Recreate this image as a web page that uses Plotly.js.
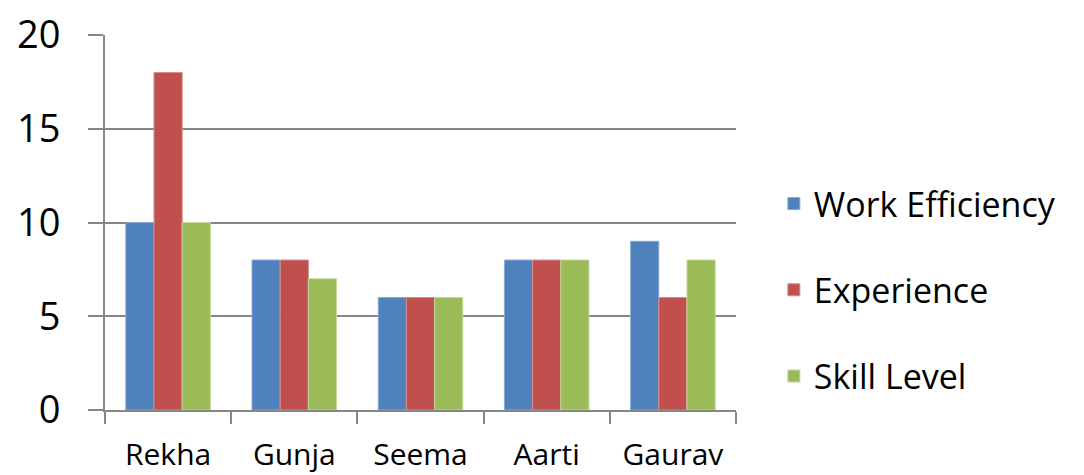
<!DOCTYPE html>
<html>
<head>
<meta charset="utf-8">
<script src="https://cdn.plot.ly/plotly-3.0.1.min.js"></script>
<style>html,body{margin:0;padding:0;background:#fff;}#chart{width:1084px;height:475px;}</style>
</head>
<body>
<div id="chart"></div>
<script>
const categories = ["Rekha", "Gunja", "Seema", "Aarti", "Gaurav"];
const workEfficiency = [10, 8, 6, 8, 9];
const experience = [18, 8, 6, 8, 6];
const skillLevel = [10, 7, 6, 8, 8];
const seriesNames = ["Work Efficiency", "Experience", "Skill Level"];
const colors = ["#4F81BD", "#C0504D", "#9BBB59"];
const edge = ["#8AA9D6", "#D98B89", "#C3D89A"];
const seriesValues = [workEfficiency, experience, skillLevel];

const traces = seriesValues.map((vals, i) => ({
  type: "bar",
  name: seriesNames[i],
  x: categories,
  y: vals,
  legendgroup: "g" + i,
  marker: {color: colors[i], line: {color: edge[i], width: 1}},
  hoverinfo: "x+y+name"
}));

const font = "'Open Sans', Lato, 'Liberation Sans', sans-serif";
const layout = {
  width: 1084, height: 475,
  margin: {l: 105, r: 348, t: 35, b: 65},
  paper_bgcolor: "#fff", plot_bgcolor: "#fff",
  barmode: "group",
  bargap: 0.33, bargroupgap: 0,
  font: {family: font, color: "#000"},
  xaxis: {
    type: "category",
    showline: true, linecolor: "#868686", linewidth: 2,
    ticks: "outside", tickson: "boundaries", ticklen: 12, tickcolor: "#868686", tickwidth: 2,
    tickfont: {size: 30, family: font},
    ticklabelstandoff: 17,
    showgrid: false, zeroline: false, fixedrange: true
  },
  yaxis: {
    range: [0, 20], dtick: 5, tick0: 0,
    showline: true, linecolor: "#868686", linewidth: 2,
    ticks: "outside", ticklen: 15, tickcolor: "#868686", tickwidth: 2,
    showgrid: true, gridcolor: "#868686", gridwidth: 2,
    zeroline: false,
    tickfont: {size: 38, family: font},
    ticklabelstandoff: 20,
    fixedrange: true
  },
  showlegend: true,
  legend: {
    x: 1.06, xanchor: "left", y: 0.32, yanchor: "middle",
    font: {size: 34, family: font, color: "#000"},
    tracegroupgap: 39,
    bgcolor: "rgba(0,0,0,0)"
  }
};

Plotly.newPlot("chart", traces, layout, {displayModeBar: false, staticPlot: true});
</script>
</body>
</html>
